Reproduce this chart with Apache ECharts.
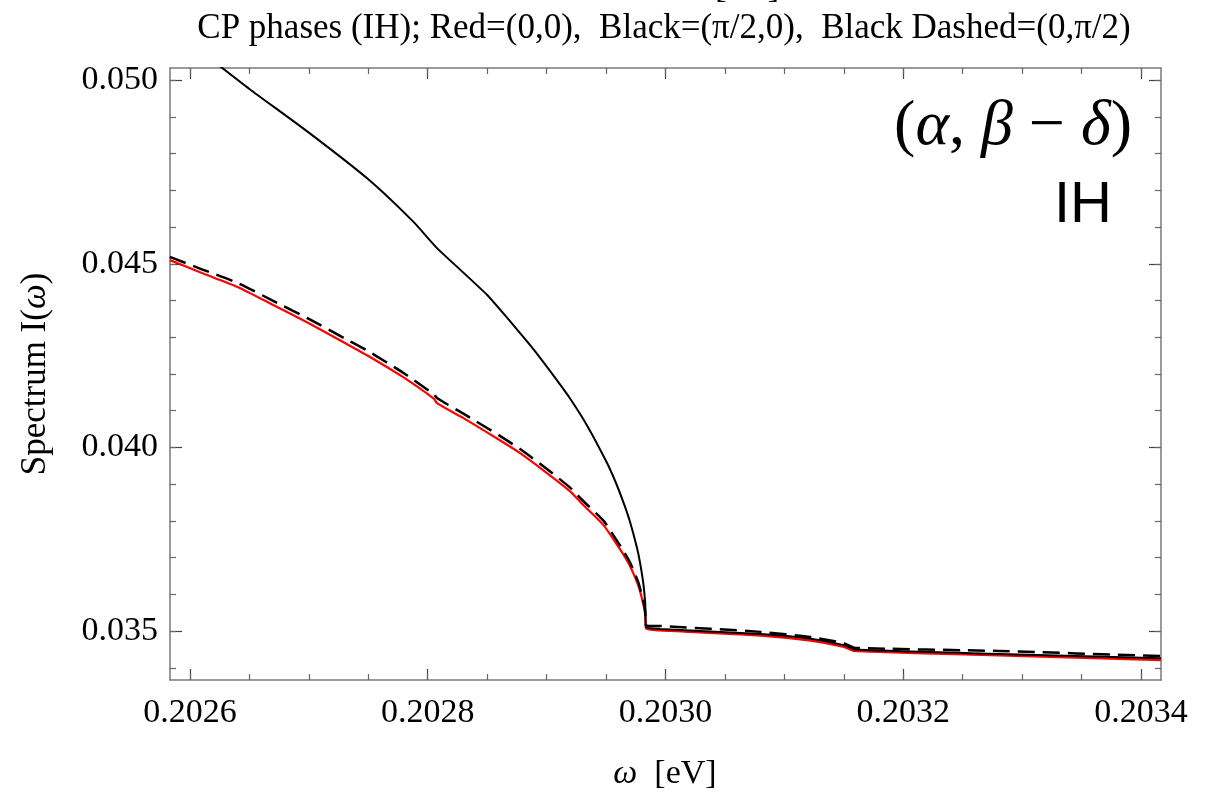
<!DOCTYPE html>
<html>
<head>
<meta charset="utf-8">
<title>Spectrum I(ω) – CP phases (IH)</title>
<script src="https://cdn.jsdelivr.net/npm/echarts@6.0.0/dist/echarts.min.js"></script>
<style>
    html, body { margin: 0; padding: 0; background: #fff; }
    #chart1 { width: 1219px; height: 791px; }
</style>
</head>
<body>
<div id="chart1"></div>
<script>
(function () {

    // Red = (0,0)
    var redX = [0.202583, 0.20261, 0.20264, 0.20267, 0.20270, 0.20273, 0.20275, 0.202779, 0.202805, 0.202808,
                0.20283, 0.20286, 0.202878, 0.20290, 0.20292, 0.20293, 0.202948, 0.202958, 0.2029645, 0.20297,
                0.202977, 0.2029813, 0.202983, 0.2029836, 0.2029954, 0.20308, 0.203122, 0.20315, 0.203159, 0.20328,
                0.2034168];
    var redY = [0.04510, 0.04475, 0.04437, 0.04388, 0.04338, 0.04285, 0.04249, 0.04192, 0.04133, 0.04120,
                0.04080, 0.04021, 0.03984, 0.03931, 0.03880, 0.03846, 0.03788, 0.03741, 0.03709, 0.03678,
                0.03625, 0.03574, 0.03543, 0.03507, 0.03502, 0.03488, 0.03474, 0.03457, 0.03446, 0.03434,
                0.03421];

    // Black = (pi/2,0)
    var blackX = [0.202624, 0.20265, 0.20270, 0.20275, 0.202788, 0.202808, 0.20283, 0.20285, 0.202866, 0.202878,
                  0.20289, 0.202908, 0.20292, 0.202934, 0.20295, 0.202958, 0.202965, 0.20297, 0.202976, 0.2029785,
                  0.202981, 0.202982, 0.202983, 0.2029836, 0.2029954, 0.20308, 0.203122, 0.20315, 0.20316, 0.20328,
                  0.2034168];
    var blackY = [0.05041, 0.04976, 0.04857, 0.04730, 0.04614, 0.04542, 0.04476, 0.04415, 0.04356, 0.04310,
                  0.04263, 0.04186, 0.04132, 0.04060, 0.03963, 0.03906, 0.03847, 0.03799, 0.03727, 0.03688,
                  0.03638, 0.03611, 0.03573, 0.03512, 0.03506, 0.03492, 0.03479, 0.03462, 0.03450, 0.03438,
                  0.03426];

    // Black dashed = (0,pi/2)
    var dashX = [0.202583, 0.20261, 0.20264, 0.20267, 0.20270, 0.20273, 0.20275, 0.202779, 0.202805, 0.202808,
                 0.20283, 0.20286, 0.202878, 0.20290, 0.20292, 0.20293, 0.202948, 0.202958, 0.2029645, 0.20297,
                 0.202977, 0.2029813, 0.202983, 0.2029836, 0.2029954, 0.20308, 0.203122, 0.20315, 0.203159, 0.20328,
                 0.2034168];
    var dashY = [0.04519, 0.04485, 0.04448, 0.04399, 0.04350, 0.04297, 0.04262, 0.04204, 0.04145, 0.04134,
                 0.04092, 0.04033, 0.03995, 0.03942, 0.03890, 0.03857, 0.03800, 0.03752, 0.03719, 0.03688,
                 0.03634, 0.03582, 0.03553, 0.03516, 0.03514, 0.03498, 0.03484, 0.03467, 0.03455, 0.03446,
                 0.03432];

    var xTicks = [0.2026, 0.2028, 0.2030, 0.2032, 0.2034];
    var xMinor = [0.20260, 0.20265, 0.20270, 0.20275, 0.20280, 0.20285, 0.20290, 0.20295, 0.20300,
                  0.20305, 0.20310, 0.20315, 0.20320, 0.20325, 0.20330, 0.20335, 0.20340];
    var yTicks = [0.035, 0.040, 0.045, 0.050];
    var yMinor = [0.034, 0.035, 0.036, 0.037, 0.038, 0.039, 0.040, 0.041, 0.042,
                  0.043, 0.044, 0.045, 0.046, 0.047, 0.048, 0.049, 0.050];

    var xMin = 0.2025832, xMax = 0.2034168;
    var yMin = 0.03367, yMax = 0.05033;

    var serif = "'Liberation Serif', 'Times New Roman', serif";
    var frame = '#7a7a7a';

    function pairs(xs, ys) {
        var out = [];
        for (var i = 0; i < xs.length; i++) out.push([xs[i], ys[i]]);
        return out;
    }

    function axis(pos, lo, hi, ticks, len, withLine, label) {
        return {
            type: 'value',
            position: pos,
            min: lo,
            max: hi,
            axisLine: { show: withLine, onZero: false, lineStyle: { color: frame, width: 1.5 } },
            axisTick: {
                show: true, inside: true, length: len, customValues: ticks,
                lineStyle: { color: len > 8 ? '#444' : '#666', width: 1.2 }
            },
            axisLabel: label || { show: false },
            splitLine: { show: false }
        };
    }

    function curve(name, xs, ys, style) {
        return {
            name: name, type: 'line', data: pairs(xs, ys),
            showSymbol: false, symbol: 'none', clip: true,
            smooth: 0.2,
            lineStyle: style
        };
    }

    var xLabel = {
        show: true, customValues: xTicks, margin: 16,
        fontFamily: serif, fontSize: 34, color: '#000',
        formatter: function (v) { return v.toFixed(4); }
    };
    var yLabel = {
        show: true, customValues: yTicks, margin: 12,
        fontFamily: serif, fontSize: 34, color: '#000',
        formatter: function (v) { return v.toFixed(3); }
    };

    var chart1 = echarts.init(document.getElementById('chart1'));

    var option = {
        backgroundColor: '#fff',
        animation: false,
        grid: { left: 170, right: 58, top: 68, bottom: 111, containLabel: false },
        xAxis: [
            axis('bottom', xMin, xMax, xTicks, 11, true, xLabel),
            axis('bottom', xMin, xMax, xMinor, 6, false),
            axis('top', xMin, xMax, xTicks, 11, true),
            axis('top', xMin, xMax, xMinor, 6, false)
        ],
        yAxis: [
            axis('left', yMin, yMax, yTicks, 12, true, yLabel),
            axis('left', yMin, yMax, yMinor, 6, false),
            axis('right', yMin, yMax, yTicks, 12, true),
            axis('right', yMin, yMax, yMinor, 6, false)
        ],
        series: [
            curve('Red=(0,0)', redX, redY, { color: '#ff0000', width: 2.2 }),
            curve('Black=(π/2,0)', blackX, blackY, { color: '#000', width: 2 }),
            curve('Black Dashed=(0,π/2)', dashX, dashY, { color: '#000', width: 2.5, type: [17, 8] })
        ],
        graphic: [
            {
                type: 'text', x: 747, y: -12,
                style: { text: '[eV]', font: '35px ' + serif, fill: '#000', align: 'center', verticalAlign: 'middle' }
            },
            {
                type: 'text', x: 664, y: 29,
                style: {
                    text: 'CP phases (IH); Red=(0,0),  Black=(π/2,0),  Black Dashed=(0,π/2)',
                    font: '35px ' + serif, fill: '#000', align: 'center', verticalAlign: 'middle'
                }
            },
            {
                type: 'text', x: 36, y: 374, rotation: Math.PI / 2,
                style: {
                    text: '{n|Spectrum I(}{i|ω}{n|)}', align: 'center', verticalAlign: 'middle',
                    rich: {
                        n: { fontFamily: serif, fontSize: 35, fill: '#000' },
                        i: { fontFamily: serif, fontSize: 35, fontStyle: 'italic', fill: '#000' }
                    }
                }
            },
            {
                type: 'text', x: 665, y: 774,
                style: {
                    text: '{i|ω}{n|  [eV]}', align: 'center', verticalAlign: 'middle',
                    rich: {
                        n: { fontFamily: serif, fontSize: 34, fill: '#000' },
                        i: { fontFamily: serif, fontSize: 34, fontStyle: 'italic', fill: '#000' }
                    }
                }
            },
            {
                type: 'text', x: 1132, y: 127,
                style: {
                    text: '{n|(}{i|α}{n|, }{i|β}{n| − }{i|δ}{n|)}', align: 'right', verticalAlign: 'middle',
                    rich: {
                        n: { fontFamily: serif, fontSize: 64, fill: '#000' },
                        i: { fontFamily: serif, fontSize: 64, fontStyle: 'italic', fill: '#000' }
                    }
                }
            },
            {
                type: 'text', x: 1112, y: 206,
                style: {
                    text: 'IH', font: '58px "Liberation Sans", Arial, sans-serif', fill: '#000',
                    align: 'right', verticalAlign: 'middle'
                }
            }
        ]
    };

    chart1.setOption(option);
    window.onresize = chart1.resize;
})();
</script>
</body>
</html>
